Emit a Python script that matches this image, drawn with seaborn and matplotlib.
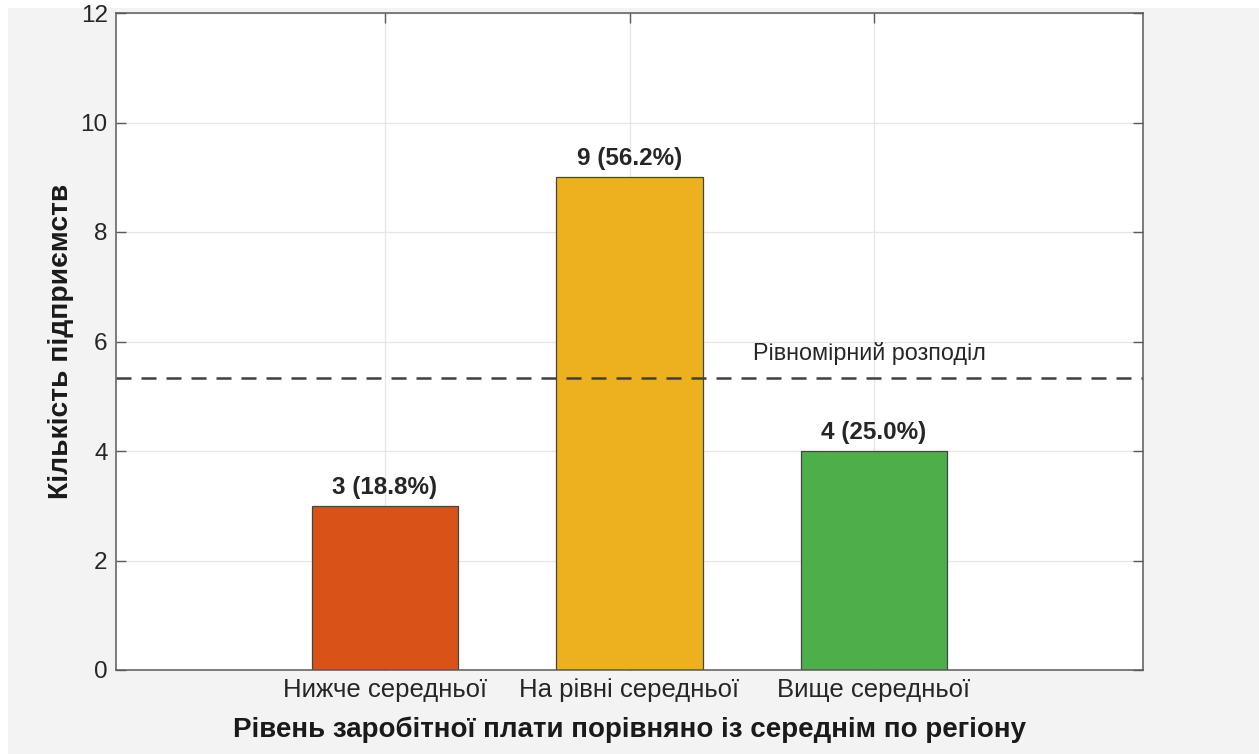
import pandas as pd
import matplotlib.pyplot as plt
import seaborn as sns
from matplotlib.patches import Rectangle

categories = ["Нижче середньої", "На рівні середньої", "Вище середньої"]
counts = [3, 9, 4]
colors = ["#D95319", "#EDB120", "#4DAF4A"]
uniform_level = sum(counts) / len(counts)

df = pd.DataFrame({"cat": categories, "n": counts})
total = sum(counts)

sns.set_theme(style="white")
plt.rcParams['font.family'] = ['Liberation Sans', 'DejaVu Sans']

fig = plt.figure(figsize=(12.59, 7.54), dpi=100, facecolor="white")
fig.patches.append(Rectangle((8 / 1259, 0), 1, (754 - 8) / 754, transform=fig.transFigure,
                             facecolor="#f3f3f3", edgecolor="none", zorder=-10))
ax = fig.add_axes([116 / 1259, 84 / 754, 1027 / 1259, 657 / 754])
ax.set_facecolor("white")

sns.barplot(data=df, x="cat", y="n", hue="cat", palette=colors, order=categories,
            hue_order=categories, width=0.6, saturation=1, edgecolor="#444444",
            linewidth=0.9, legend=False, ax=ax, zorder=2)

# value labels
for i, v in enumerate(counts):
    ax.text(i, v + 0.22, f"{v} ({v / total * 100:.1f}%)", ha="center", va="baseline",
            fontsize=17.5, fontweight="bold", color="#262626", zorder=5)

# uniform distribution line
ax.axhline(uniform_level, color="#404040", linestyle=(0, (6, 4)), linewidth=1.8, zorder=4)
ax.text(1.98, 5.66, "Рівномірний розподіл", ha="center", va="baseline",
        fontsize=16.8, color="#262626", zorder=5)

ax.set_xlim(-1.1, 3.1)
ax.set_ylim(0, 12)
ax.set_yticks([0, 2, 4, 6, 8, 10, 12])

# grid below the bars, ticks stay on top (MATLAB style)
ax.grid(False)
for yv in ax.get_yticks():
    ax.axhline(yv, color="#e6e6e6", linewidth=0.9, zorder=0.5)
for xv in ax.get_xticks():
    ax.axvline(xv, color="#e6e6e6", linewidth=0.9, zorder=0.5)

for s in ax.spines.values():
    s.set_color("#5a5a5a")
    s.set_linewidth(1.1)
    s.set_visible(True)
    s.set_zorder(6)

ax.tick_params(axis="both", which="both", direction="in", length=7, width=1.0,
               color="#5a5a5a", labelcolor="#262626",
               top=True, right=True, left=True, bottom=True, pad=6)
ax.tick_params(axis="x", labelsize=18.5)
ax.tick_params(axis="y", labelsize=17.5)

ax.set_xlabel("Рівень заробітної плати порівняно із середнім по регіону",
              fontsize=20, fontweight="bold", color="#1a1a1a", labelpad=10)
ax.set_ylabel("Кількість підприємств", fontsize=20.3, fontweight="bold",
              color="#1a1a1a", labelpad=5)

plt.savefig("out.png", dpi=100, facecolor=fig.get_facecolor())
